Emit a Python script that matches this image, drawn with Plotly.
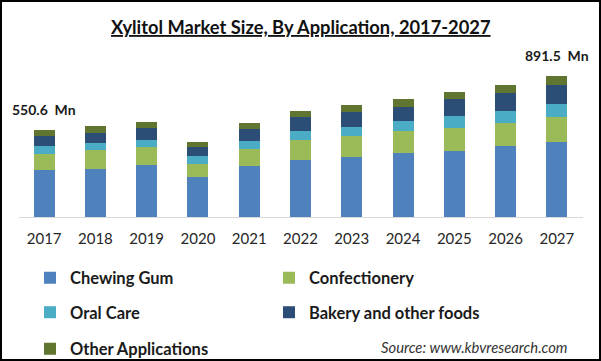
import plotly.graph_objects as go

years = [2017, 2018, 2019, 2020, 2021, 2022, 2023, 2024, 2025, 2026, 2027]
year_labels = ["2017", "2018", "2019", "2020", "2021", "2022", "2023", "2024", "2025", "2026", "2027"]
chewing_gum = [296.6, 307.0, 328.0, 254.0, 320.0, 364.0, 383.0, 404.0, 421.0, 448.0, 473.3]
confectionery = [105.0, 115.5, 113.6, 84.6, 111.7, 126.0, 128.0, 139.0, 145.0, 149.5, 160.3]
oral_care = [48.0, 46.0, 48.6, 46.0, 52.4, 56.8, 61.0, 63.0, 71.3, 75.7, 80.5]
bakery = [65.6, 65.6, 73.2, 56.8, 73.8, 86.4, 94.7, 92.8, 107.0, 109.0, 120.4]
other_apps = [35.4, 39.8, 36.0, 31.6, 39.8, 39.8, 44.0, 50.5, 50.5, 55.0, 57.0]

series = [
    ("Chewing Gum", chewing_gum, "#4F81BD", "legend"),
    ("Confectionery", confectionery, "#9BBB59", "legend"),
    ("Oral Care", oral_care, "#4BACC6", "legend2"),
    ("Bakery and other foods", bakery, "#2C4D75", "legend2"),
    ("Other Applications", other_apps, "#5F7530", "legend3"),
]

W, H = 601, 361
FONT = "Lato"

fig = go.Figure()
for name, vals, color, lg in series:
    fig.add_trace(go.Bar(x=list(years), y=list(vals), name=name,
                         marker=dict(color=color, line=dict(width=0)), legend=lg))

totals = [sum(v) for v in zip(chewing_gum, confectionery, oral_care, bakery, other_apps)]

annotations = []
for idx in (0, len(years) - 1):
    annotations.append(dict(x=years[idx], y=totals[idx], xref="x", yref="y",
                            text="<b>%.1f  Mn</b>" % totals[idx], showarrow=False,
                            yanchor="middle", yshift=21,
                            font=dict(family=FONT, size=14, color="#1a1a1a")))
annotations.append(dict(x=570 / W, y=1 - 347 / H, xref="paper", yref="paper", xanchor="right",
                        yanchor="middle", text="<i>Source: www.kbvresearch.com</i>", showarrow=False,
                        font=dict(family=FONT, size=14.8, color="#333333")))
annotations.append(dict(x=0.5, y=1 - 27 / H, xref="paper", yref="paper", xanchor="center",
                        yanchor="middle", text="<b>Xylitol Market Size, By Application, 2017-2027</b>",
                        showarrow=False,
                        font=dict(family=FONT, size=18.3, color="#111111", lineposition="under")))

legfont = dict(family=FONT, size=16.5, color="#1a1a1a", weight="bold")
def leg(yc):
    return dict(orientation="h", x=30 / W, xanchor="left", y=1 - yc / H, yanchor="middle",
                entrywidth=194, entrywidthmode="pixels", font=legfont, bgcolor="rgba(0,0,0,0)",
                traceorder="normal")

fig.update_layout(
    width=W, height=H,
    margin=dict(l=0, r=0, t=0, b=0, autoexpand=False),
    paper_bgcolor="white", plot_bgcolor="white",
    barmode="stack", bargap=0.59,
    showlegend=True,
    legend=leg(278), legend2=leg(312.5), legend3=leg(349),
    xaxis=dict(type="linear", domain=[18.5 / W, 582.5 / W], range=[2016.5, 2027.5],
               tickmode="array", tickvals=years, ticktext=year_labels, ticklabelstandoff=8,
               showline=True, linecolor="#D9D9D9", linewidth=1, ticks="", showgrid=False,
               zeroline=False, tickfont=dict(family=FONT, size=15, color="#262626"),
               fixedrange=True),
    yaxis=dict(domain=[1 - 217 / H, 1 - 67 / H], range=[0, 950], showticklabels=False,
               showgrid=False, zeroline=False, showline=False, fixedrange=True),
    annotations=annotations,
    shapes=[dict(type="rect", xref="paper", yref="paper", x0=1 / W, x1=1 - 1 / W, y0=1 / H, y1=1 - 1 / H,
                 line=dict(color="black", width=2), fillcolor="rgba(0,0,0,0)", layer="above")],
)

fig.write_html("out.html")
